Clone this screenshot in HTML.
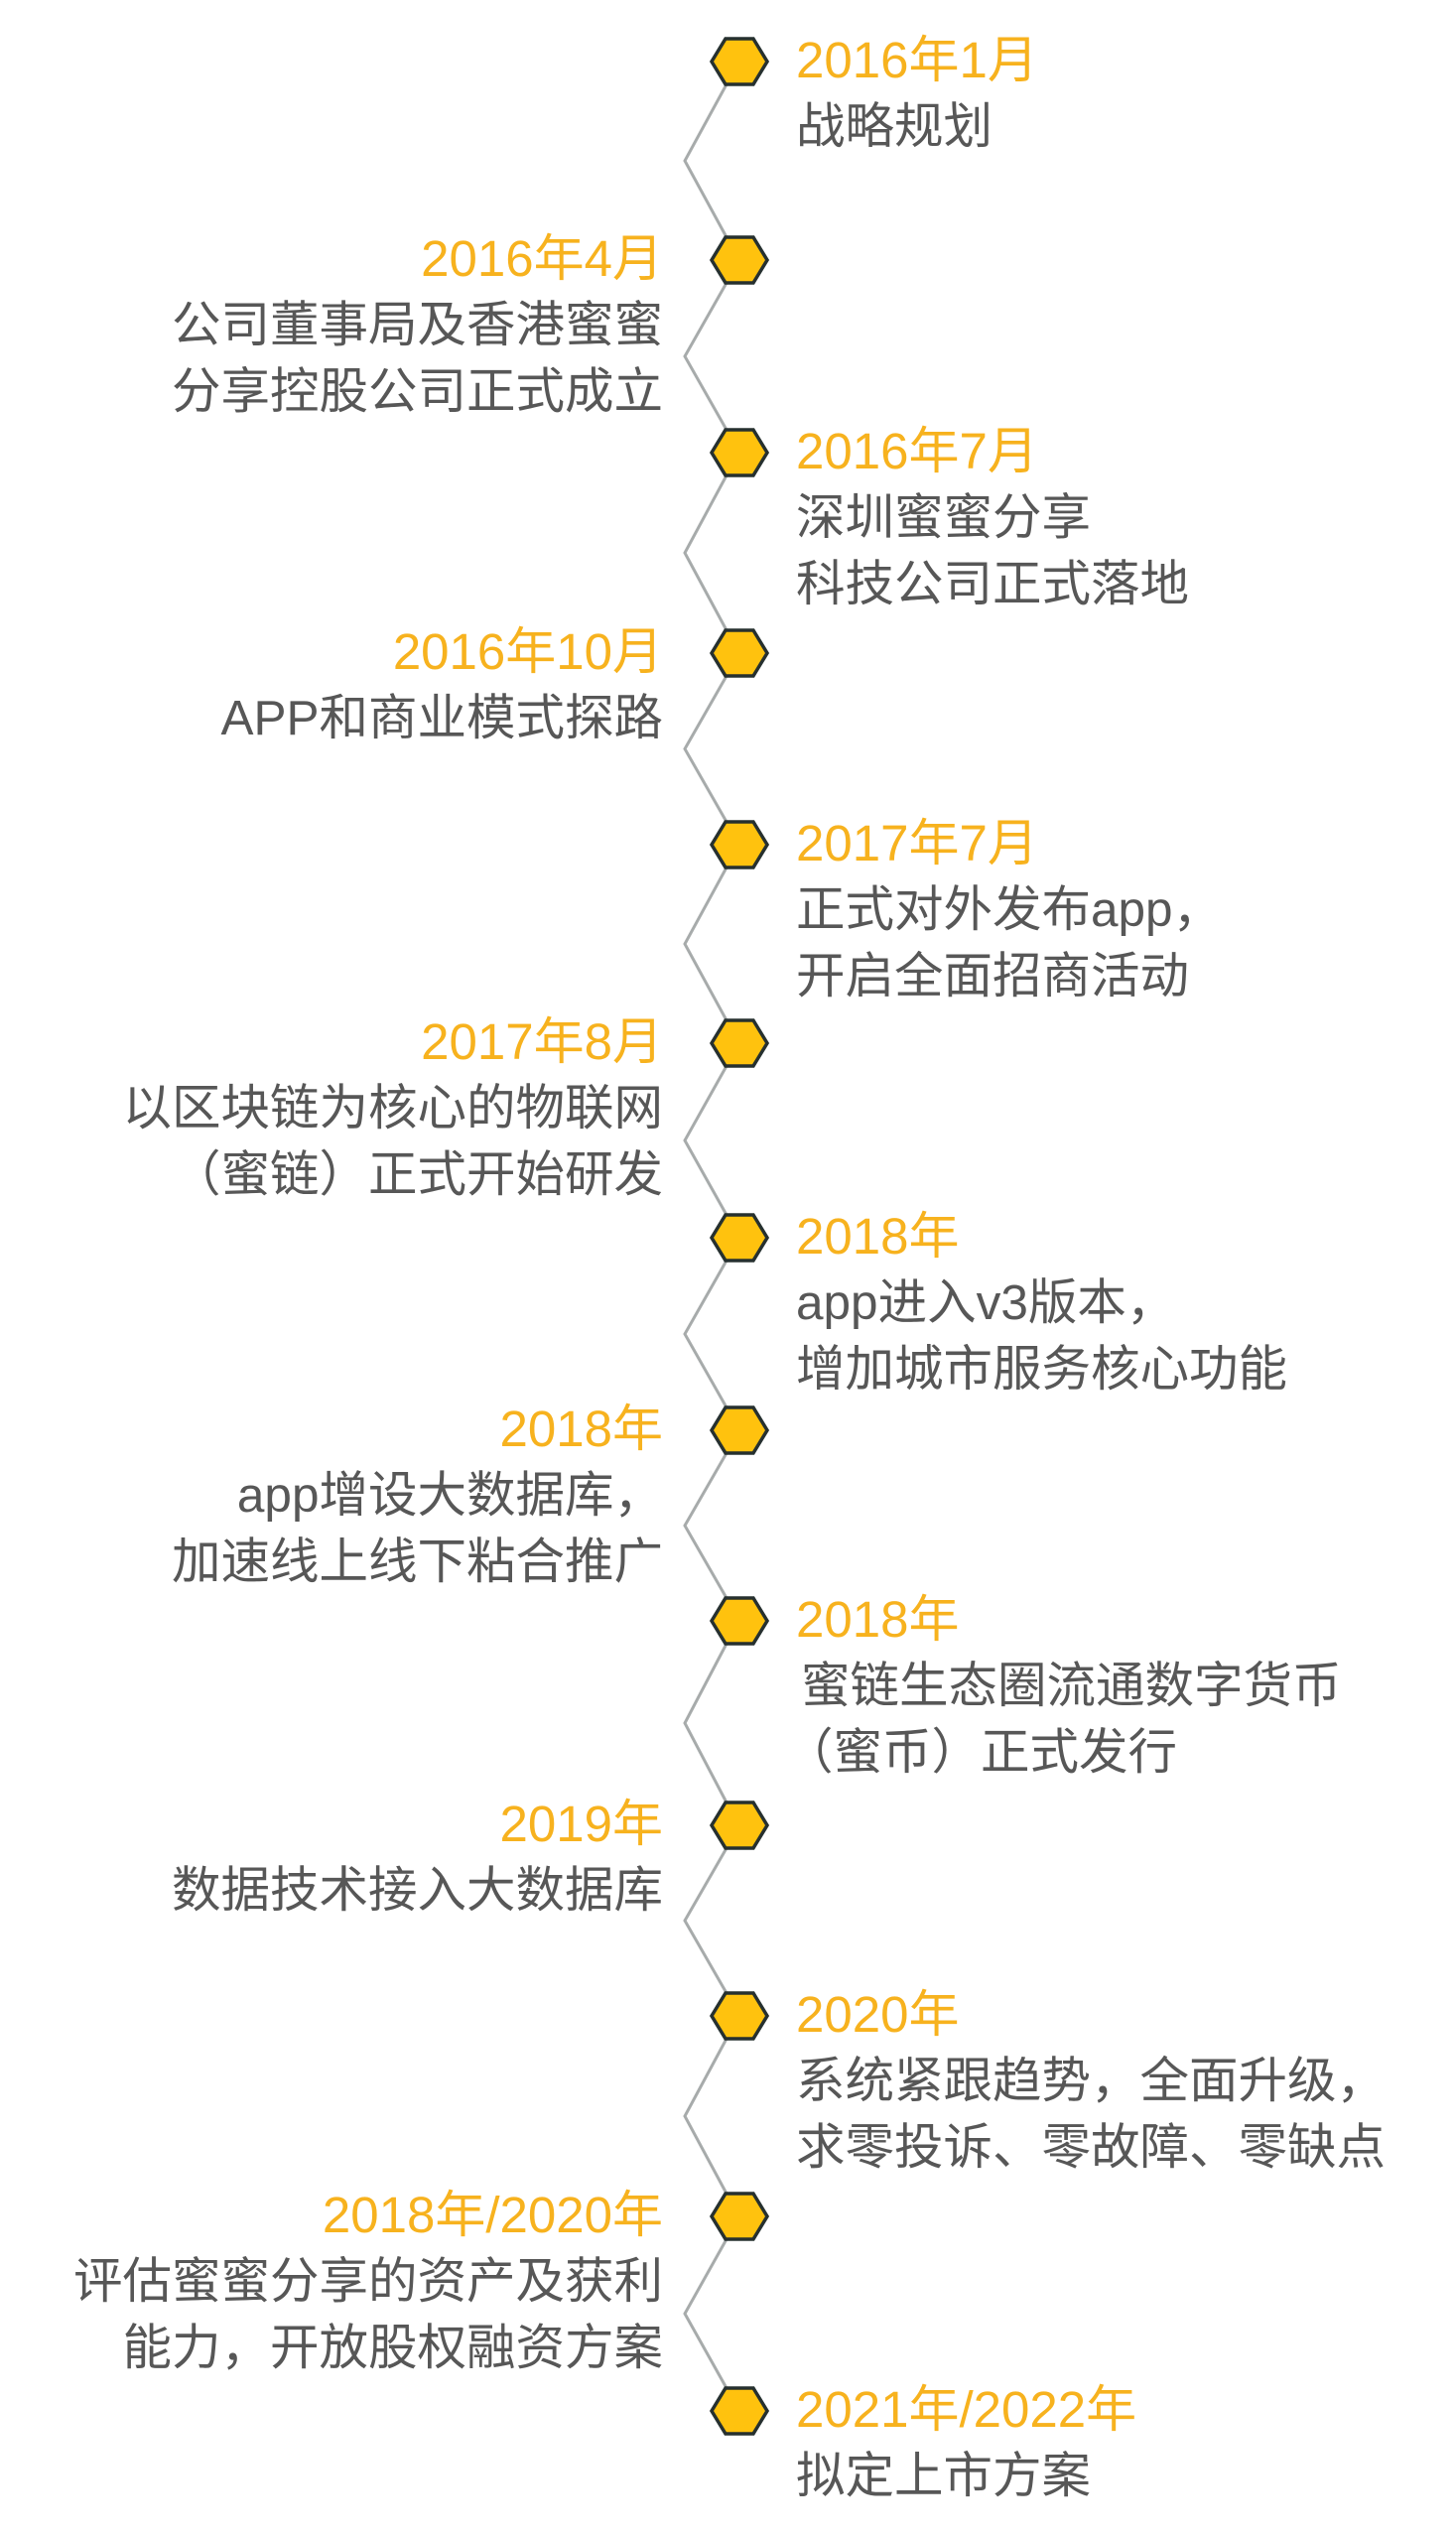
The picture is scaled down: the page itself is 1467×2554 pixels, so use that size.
<!DOCTYPE html>
<html><head><meta charset="utf-8"><style>
html,body{margin:0;padding:0;background:#fff;}
body{width:1467px;height:2554px;position:relative;overflow:hidden;font-family:"Liberation Sans","Noto Sans CJK SC",sans-serif;}
.item{position:absolute;font-size:49.5px;line-height:67px;color:#575757;white-space:nowrap;}
.item .d{color:#F7B21E;font-size:51px;}
.r{left:802px;text-align:left;}
.l{right:799px;text-align:right;}
svg{position:absolute;left:0;top:0;}
</style></head><body>
<svg width="1467" height="2554" id="g"></svg>
<script>
const ys=[62,262,456,658,851,1051,1247,1441,1633,1839,2031,2233,2429];
const sides=['r','l','r','l','r','l','r','l','r','l','r','l','r'];
const dates=['2016年1月','2016年4月','2016年7月','2016年10月','2017年7月','2017年8月','2018年','2018年','2018年','2019年','2020年','2018年/2020年','2021年/2022年'];
const descs=[['战略规划'],['公司董事局及香港蜜蜜','分享控股公司正式成立'],['深圳蜜蜜分享','科技公司正式落地'],['APP和商业模式探路'],['正式对外发布app，','开启全面招商活动'],['以区块链为核心的物联网','（蜜链）正式开始研发'],['app进入v3版本，','增加城市服务核心功能'],['app增设大数据库，','加速线上线下粘合推广'],['蜜链生态圈流通数字货币','（蜜币）正式发行'],['数据技术接入大数据库'],['系统紧跟趋势，全面升级，','求零投诉、零故障、零缺点'],['评估蜜蜜分享的资产及获利','能力，开放股权融资方案'],['拟定上市方案']];
const NS='http://www.w3.org/2000/svg';
const g=document.getElementById('g');
const cx=745, zx=690;
for(let i=0;i<ys.length-1;i++){
  const y1=ys[i], y2=ys[i+1], mid=(y1+y2)/2;
  const p=document.createElementNS(NS,'polyline');
  p.setAttribute('points',`${cx-13},${y1+23} ${zx},${mid} ${cx-13},${y2-23}`);
  p.setAttribute('fill','none');p.setAttribute('stroke','#a7abab');p.setAttribute('stroke-width','3');
  
  
  g.appendChild(p);
}
ys.forEach((y,i)=>{
  const h=document.createElementNS(NS,'polygon');
  h.setAttribute('points',`${cx-28},${y} ${cx-14},${y-23} ${cx+14},${y-23} ${cx+28},${y} ${cx+14},${y+23} ${cx-14},${y+23}`);
  h.setAttribute('fill','#FFC20E');h.setAttribute('stroke','#26302f');h.setAttribute('stroke-width','3.5');
  
  
  g.appendChild(h);
  const d=document.createElement('div');
  d.className='item '+sides[i];
  d.style.top=(y-35)+'px';
  
  
  let html='<div class="d">'+dates[i]+'</div>';
  descs[i].forEach((t,k)=>{
    const st=(i===8)?(k===0?' style="margin-left:5px"':' style="margin-left:-12px"'):'';
    html+='<div'+st+'>'+t+'</div>';
  });
  d.innerHTML=html;
  document.body.appendChild(d);
});
</script>
</body></html>
